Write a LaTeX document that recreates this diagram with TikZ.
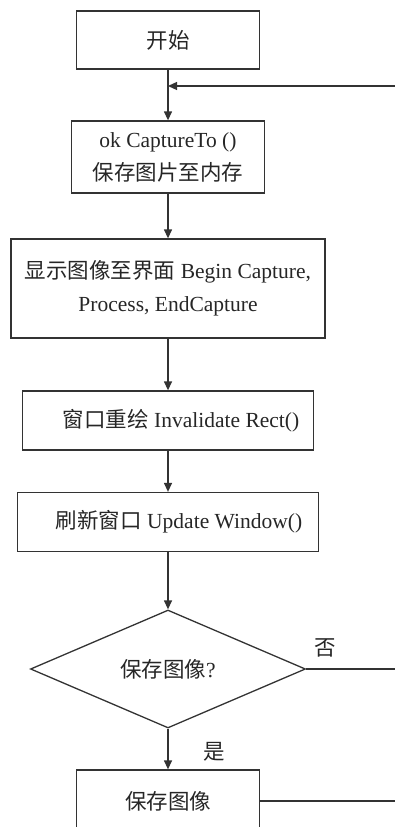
\documentclass[tikz,border=0pt]{standalone}
\usepackage{fontspec}
\setmainfont{Liberation Serif}
\newfontfamily\cjk{Noto Sans CJK SC}
\usetikzlibrary{shapes.geometric,arrows.meta}
\begin{document}
\begin{tikzpicture}[x=1pt,y=-1pt,
  every node/.style={text=black!85,font=\fontsize{21.5}{33}\selectfont},
  box/.style={draw=black!80,line width=1.3pt,rectangle,inner sep=0pt,align=center},
  decision/.style={draw=black!80,line width=1.3pt,diamond,inner sep=0pt,aspect=2.33},
  link/.style={draw=black!80,line width=1.3pt},
  arr/.style={link,-{Triangle[length=9pt,width=8pt]}}]
\useasboundingbox (0,0) rectangle (395,827);
\clip (0,0) rectangle (395,827);

% process boxes
\node[box,minimum width=183pt,minimum height=58pt] (start) at (168,40) {{\cjk 开始}};
\node[box,minimum width=193pt,minimum height=72pt] (cap) at (168,157)
  {ok CaptureTo ()\\{\cjk 保存图片至内存}};
\node[box,minimum width=314pt,minimum height=99pt] (disp) at (168,288.5)
  {{\cjk 显示图像至界面} Begin Capture,\\Process, EndCapture};
\node[box,minimum width=291pt,minimum height=59pt] (inval) at (168,420.5)
  {\hspace*{26pt}{\cjk 窗口重绘} Invalidate Rect()};
\node[box,minimum width=301pt,minimum height=59pt] (upd) at (168,522)
  {\hspace*{22pt}{\cjk 刷新窗口} Update Window()};
\node[decision,minimum width=275pt,minimum height=118pt] (dec) at (168,669)
  {{\cjk 保存图像}?};
\node[box,minimum width=183pt,minimum height=62pt] (save) at (168,801)
  {{\cjk 保存图像}};

% branch labels
\node (no) at (325,648) {{\cjk 否}};
\node (yes) at (214,752) {{\cjk 是}};

% free ends at the right margin
\coordinate (fbin) at (395,86);
\coordinate (noout) at (395,669);
\coordinate (saveout) at (395,801);

% connectors
\draw[link] (start.south) -- (start.south |- fbin);
\draw[arr] (start.south |- fbin) -- (cap.north);
\draw[arr] (fbin) -- (start.south |- fbin);
\draw[arr] (cap.south) -- (disp.north);
\draw[arr] (disp.south) -- (inval.north);
\draw[arr] (inval.south) -- (upd.north);
\draw[arr] (upd.south) -- (dec.north);
\draw[arr] (dec.south) -- (save.north);
\draw[link] (dec.east) -- (noout);
\draw[link] (save.east) -- (saveout);
\end{tikzpicture}
\end{document}
